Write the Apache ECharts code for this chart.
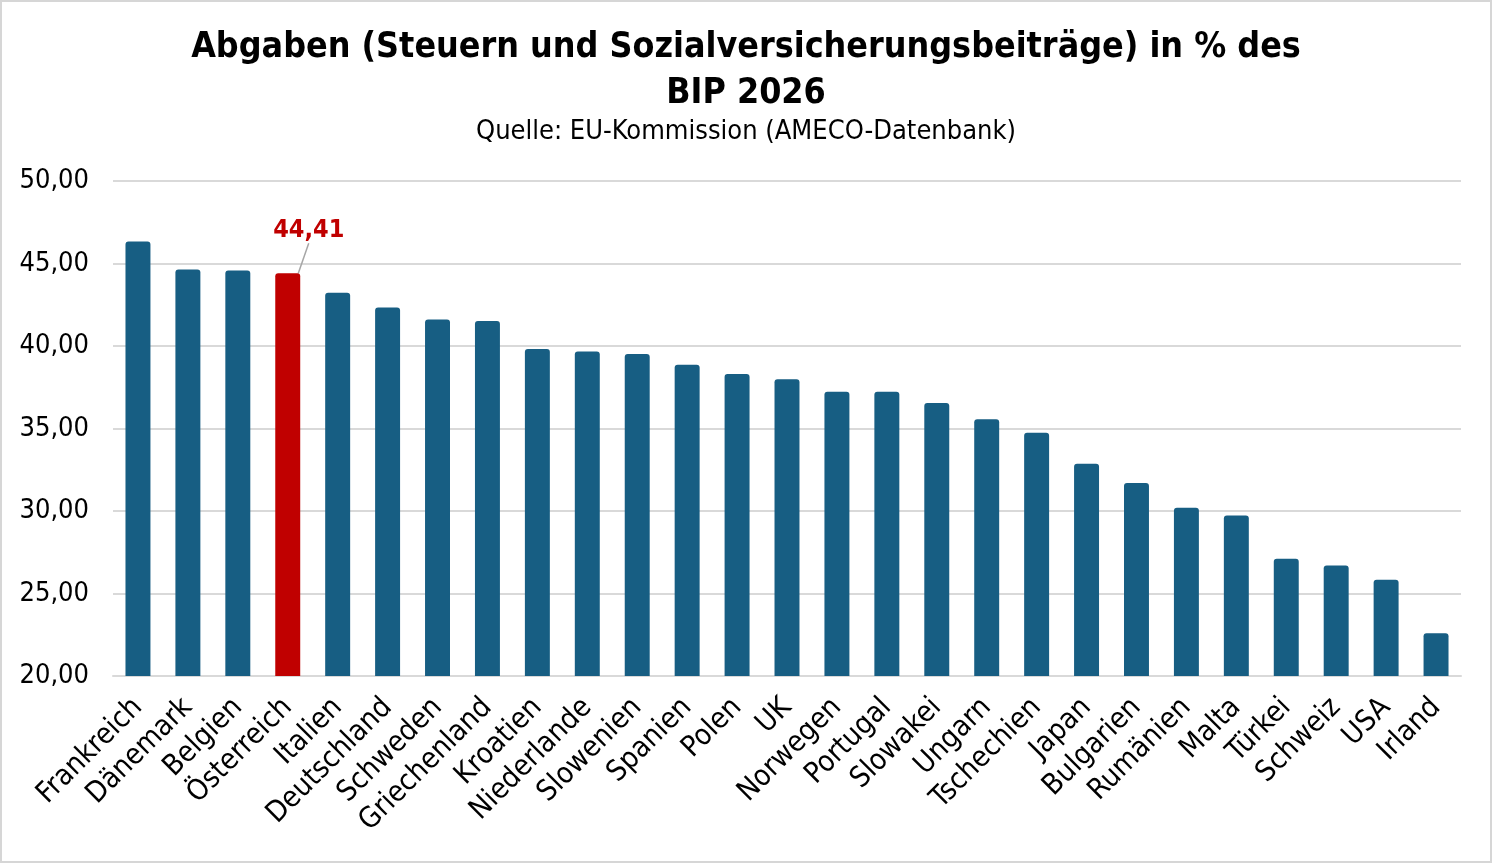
<!DOCTYPE html>
<html>
<head>
<meta charset="utf-8">
<script src="https://cdn.jsdelivr.net/npm/echarts@6/dist/echarts.min.js"></script>
<style>
  html, body { margin:0; padding:0; background:#fff; }
  #chart { width:1492px; height:863px; box-sizing:border-box; border:2px solid #d6d6d6; }
</style>
</head>
<body>
<div id="chart"></div>
<script>
// ====== Abgaben in % des BIP 2026 ======

const countries = [
  'Frankreich','Dänemark','Belgien','Österreich','Italien','Deutschland','Schweden',
  'Griechenland','Kroatien','Niederlande','Slowenien','Spanien','Polen','UK',
  'Norwegen','Portugal','Slowakei','Ungarn','Tschechien','Japan','Bulgarien',
  'Rumänien','Malta','Türkei','Schweiz','USA','Irland'
];
const abgaben = [
  46.34, 44.63, 44.57, 44.41, 43.23, 42.34, 41.60,
  41.52, 39.82, 39.66, 39.52, 38.87, 38.31, 37.98,
  37.23, 37.23, 36.55, 35.56, 34.75, 32.87, 31.70,
  30.20, 29.72, 27.11, 26.69, 25.84, 22.59
];
const highlight = 'Österreich';
const yTicks = { min: 20, max: 50, step: 5 };

const FONT = '"DejaVu Sans Condensed", "DejaVu Sans", sans-serif';
const BLUE = '#175e83';
const RED  = '#c00000';

const fmt = v => v.toFixed(2).replace('.', ',');

const chart = echarts.init(document.getElementById('chart'));
chart.setOption({
  backgroundColor: '#fff',
  animation: false,
  title: [{
    text: 'Abgaben (Steuern und Sozialversicherungsbeiträge) in % des\nBIP 2026',
    left: 'center', top: 18,
    textStyle: { fontFamily: FONT, fontSize: 35.5, fontWeight: 'bold', color: '#000', lineHeight: 46 },
  }, {
    text: 'Quelle: EU-Kommission (AMECO-Datenbank)',
    left: 'center', top: 111,
    textStyle: { fontFamily: FONT, fontSize: 27, fontWeight: 'normal', color: '#000' },
  }],
  grid: { left: 111, right: 29, top: 179, bottom: 185 },
  xAxis: {
    type: 'category',
    data: countries,
    axisTick: { show: false },
    axisLine: { lineStyle: { color: '#d9d9d9', width: 2 } },
    axisLabel: {
      interval: 0, rotate: 45, margin: 27,
      fontFamily: FONT, fontSize: 29, color: '#000'
    }
  },
  yAxis: {
    type: 'value',
    min: yTicks.min, max: yTicks.max, interval: yTicks.step,
    axisLine: { show: false }, axisTick: { show: false },
    splitLine: { lineStyle: { color: '#d9d9d9', width: 2 } },
    axisLabel: {
      margin: 24, fontFamily: FONT, fontSize: 27, color: '#000',
      formatter: v => fmt(v)
    }
  },
  series: [{
    type: 'bar',
    barWidth: '50%',
    itemStyle: { borderRadius: [3, 3, 0, 0] },
    data: abgaben.map((v, i) => {
      if (countries[i] !== highlight) return { value: v, itemStyle: { color: BLUE } };
      return {
        value: v,
        itemStyle: { color: RED },
        label: {
          show: true, position: 'top', distance: 4,
          formatter: p => fmt(p.value),
          fontFamily: FONT, fontSize: 25, fontWeight: 'bold', color: RED
        },
        labelLine: { show: true, lineStyle: { color: '#a6a6a6', width: 1.5 } }
      };
    }),
    labelLayout: { dx: 21, dy: -26 },
    labelLine: { show: true, lineStyle: { color: '#a6a6a6', width: 1.5 } }
  }]
});
</script>
</body>
</html>
